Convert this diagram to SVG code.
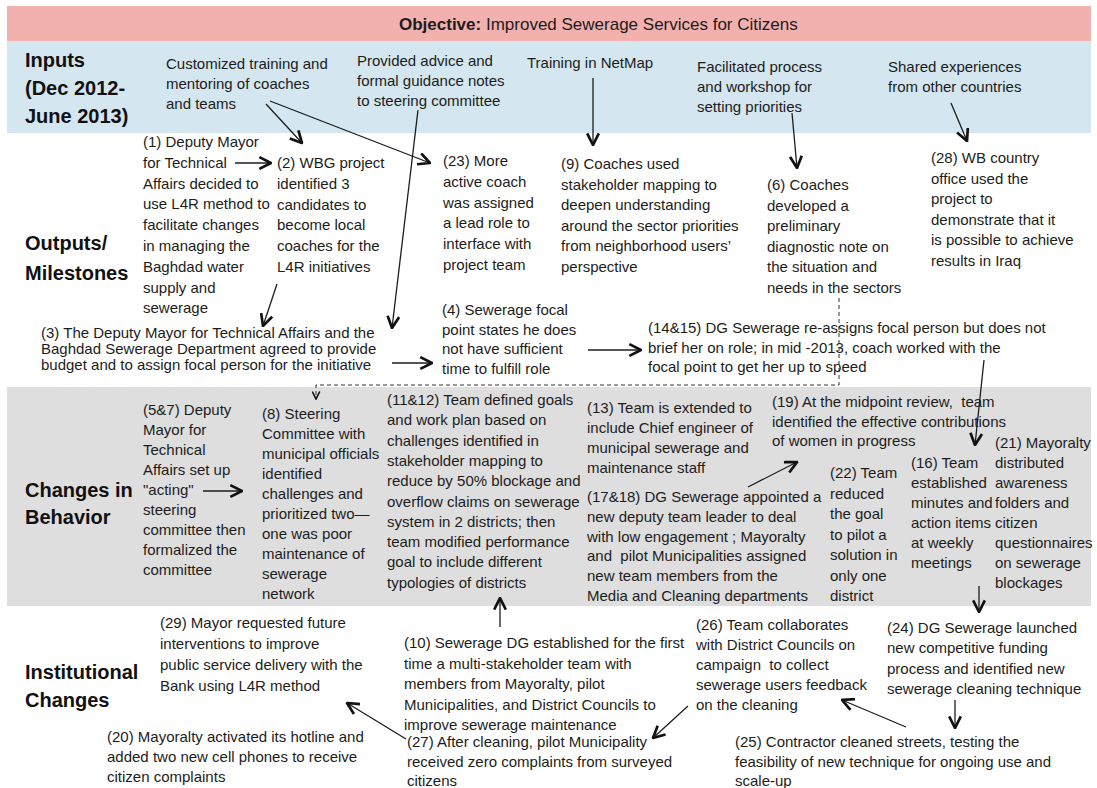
<svg xmlns="http://www.w3.org/2000/svg" width="1097" height="788" viewBox="0 0 1097 788">
  <defs>
    <style>
      .t { font-family: "Liberation Sans", Arial, sans-serif; font-size: 15px; fill: #1c1c1c; }
      .lbl { font-family: "Liberation Sans", Arial, sans-serif; font-size: 20px; font-weight: bold; fill: #111; }
      .title { font-family: "Liberation Sans", Arial, sans-serif; font-size: 17px; fill: #1c1c1c; }
      .c { fill: none; stroke: #1c1c1c; stroke-width: 1.3; }
      .dash { fill: none; stroke: #333; stroke-width: 1; stroke-dasharray: 4 3; }
    </style>
    <marker id="ah" viewBox="0 0 12 12" refX="11" refY="6" markerWidth="14" markerHeight="14" markerUnits="userSpaceOnUse" orient="auto">
      <path d="M1,1 L11,6 L1,11" fill="none" stroke="#111" stroke-width="2.3"/>
    </marker>
    <marker id="ahs" viewBox="0 0 12 12" refX="11" refY="6" markerWidth="9" markerHeight="9" markerUnits="userSpaceOnUse" orient="auto">
      <path d="M1,1 L11,6 L1,11" fill="none" stroke="#111" stroke-width="2.2"/>
    </marker>
  </defs>

  <!-- background bands -->
  <g id="bands">
    <rect x="7" y="6" width="1084" height="35" fill="#F2B0AF"/>
    <rect x="7" y="41" width="1084" height="92" fill="#D4E6EF"/>
    <rect x="7" y="387" width="1084" height="219" fill="#DEDEDE"/>
  </g>

  <g id="objective">
    <text class="title" x="399" y="30"><tspan font-weight="bold">Objective:</tspan> Improved Sewerage Services for Citizens</text>
  </g>

  <!-- row labels -->
  <g id="row-labels">
    <text class="lbl" x="25" y="67">Inputs</text>
    <text class="lbl" x="25" y="95">(Dec 2012-</text>
    <text class="lbl" x="25" y="123">June 2013)</text>
    <text class="lbl" x="25" y="250">Outputs/</text>
    <text class="lbl" x="25" y="280">Milestones</text>
    <text class="lbl" x="25" y="497">Changes in</text>
    <text class="lbl" x="25" y="524">Behavior</text>
    <text class="lbl" x="25" y="679">Institutional</text>
    <text class="lbl" x="25" y="707">Changes</text>
  </g>

  <!-- inputs -->
  <g id="in-training">
    <text class="t" x="166" y="69"><tspan x="166">Customized training and</tspan><tspan x="166" dy="20">mentoring of coaches</tspan><tspan x="166" dy="20">and teams</tspan></text>
  </g>
  <g id="in-advice">
    <text class="t" x="357" y="66"><tspan x="357">Provided advice and</tspan><tspan x="357" dy="20">formal guidance notes</tspan><tspan x="357" dy="20">to steering committee</tspan></text>
  </g>
  <g id="in-netmap">
    <text class="t" x="527" y="68">Training in NetMap</text>
  </g>
  <g id="in-workshop">
    <text class="t" x="697" y="72"><tspan x="697">Facilitated process</tspan><tspan x="697" dy="20">and workshop for</tspan><tspan x="697" dy="20">setting priorities</tspan></text>
  </g>
  <g id="in-shared">
    <text class="t" x="888" y="72"><tspan x="888">Shared experiences</tspan><tspan x="888" dy="20">from other countries</tspan></text>
  </g>

  <!-- outputs / milestones -->
  <g id="n1">
    <text class="t" x="143" y="147"><tspan x="143">(1) Deputy Mayor</tspan><tspan x="143" dy="20.8">for Technical</tspan><tspan x="143" dy="20.8">Affairs decided to</tspan><tspan x="143" dy="20.8">use L4R method to</tspan><tspan x="143" dy="20.8">facilitate changes</tspan><tspan x="143" dy="20.8">in managing the</tspan><tspan x="143" dy="20.8">Baghdad water</tspan><tspan x="143" dy="20.8">supply and</tspan><tspan x="143" dy="20.8">sewerage</tspan></text>
  </g>
  <g id="n2">
    <text class="t" x="277" y="168"><tspan x="277">(2) WBG project</tspan><tspan x="277" dy="20.8">identified 3</tspan><tspan x="277" dy="20.8">candidates to</tspan><tspan x="277" dy="20.8">become local</tspan><tspan x="277" dy="20.8">coaches for the</tspan><tspan x="277" dy="20.8">L4R initiatives</tspan></text>
  </g>
  <g id="n23">
    <text class="t" x="443" y="166"><tspan x="443">(23) More</tspan><tspan x="443" dy="20.8">active coach</tspan><tspan x="443" dy="20.8">was assigned</tspan><tspan x="443" dy="20.8">a lead role to</tspan><tspan x="443" dy="20.8">interface with</tspan><tspan x="443" dy="20.8">project team</tspan></text>
  </g>
  <g id="n9">
    <text class="t" x="561" y="169"><tspan x="561">(9) Coaches used</tspan><tspan x="561" dy="20.5">stakeholder mapping to</tspan><tspan x="561" dy="20.5">deepen understanding</tspan><tspan x="561" dy="20.5">around the sector priorities</tspan><tspan x="561" dy="20.5">from neighborhood users’</tspan><tspan x="561" dy="20.5">perspective</tspan></text>
  </g>
  <g id="n6">
    <text class="t" x="767" y="190"><tspan x="767">(6) Coaches</tspan><tspan x="767" dy="20.5">developed a</tspan><tspan x="767" dy="20.5">preliminary</tspan><tspan x="767" dy="20.5">diagnostic note on</tspan><tspan x="767" dy="20.5">the situation and</tspan><tspan x="767" dy="20.5">needs in the sectors</tspan></text>
  </g>
  <g id="n28">
    <text class="t" x="931" y="163"><tspan x="931">(28) WB country</tspan><tspan x="931" dy="20.5">office used the</tspan><tspan x="931" dy="20.5">project to</tspan><tspan x="931" dy="20.5">demonstrate that it</tspan><tspan x="931" dy="20.5">is possible to achieve</tspan><tspan x="931" dy="20.5">results in Iraq</tspan></text>
  </g>
  <g id="n3">
    <text class="t" x="41" y="338"><tspan x="41">(3) The Deputy Mayor for Technical Affairs and the</tspan><tspan x="41" dy="16">Baghdad Sewerage Department agreed to provide</tspan><tspan x="41" dy="16">budget and to assign focal person for the initiative</tspan></text>
  </g>
  <g id="n4">
    <text class="t" x="442" y="315"><tspan x="442">(4) Sewerage focal</tspan><tspan x="442" dy="19.7">point states he does</tspan><tspan x="442" dy="19.7">not have sufficient</tspan><tspan x="442" dy="19.7">time to fulfill role</tspan></text>
  </g>
  <g id="n14-15">
    <text class="t" x="648" y="333"><tspan x="648">(14&amp;15) DG Sewerage re-assigns focal person but does not</tspan><tspan x="648" dy="19.5">brief her on role; in mid -2013, coach worked with the</tspan><tspan x="648" dy="19.5">focal point to get her up to speed</tspan></text>
  </g>

  <!-- changes in behavior -->
  <g id="n5-7">
    <text class="t" x="143" y="415"><tspan x="143">(5&amp;7) Deputy</tspan><tspan x="143" dy="20">Mayor for</tspan><tspan x="143" dy="20">Technical</tspan><tspan x="143" dy="20">Affairs set up</tspan><tspan x="143" dy="20">"acting"</tspan><tspan x="143" dy="20">steering</tspan><tspan x="143" dy="20">committee then</tspan><tspan x="143" dy="20">formalized the</tspan><tspan x="143" dy="20">committee</tspan></text>
  </g>
  <g id="n8">
    <text class="t" x="262" y="419"><tspan x="262">(8) Steering</tspan><tspan x="262" dy="20">Committee with</tspan><tspan x="262" dy="20">municipal officials</tspan><tspan x="262" dy="20">identified</tspan><tspan x="262" dy="20">challenges and</tspan><tspan x="262" dy="20">prioritized two—</tspan><tspan x="262" dy="20">one was poor</tspan><tspan x="262" dy="20">maintenance of</tspan><tspan x="262" dy="20">sewerage</tspan><tspan x="262" dy="20">network</tspan></text>
  </g>
  <g id="n11-12">
    <text class="t" x="387" y="405"><tspan x="387">(11&amp;12) Team defined goals</tspan><tspan x="387" dy="20.3">and work plan based on</tspan><tspan x="387" dy="20.3">challenges identified in</tspan><tspan x="387" dy="20.3">stakeholder mapping to</tspan><tspan x="387" dy="20.3">reduce by 50% blockage and</tspan><tspan x="387" dy="20.3">overflow claims on sewerage</tspan><tspan x="387" dy="20.3">system in 2 districts; then</tspan><tspan x="387" dy="20.3">team modified performance</tspan><tspan x="387" dy="20.3">goal to include different</tspan><tspan x="387" dy="20.3">typologies of districts</tspan></text>
  </g>
  <g id="n13">
    <text class="t" x="587" y="413"><tspan x="587">(13) Team is extended to</tspan><tspan x="587" dy="20">include Chief engineer of</tspan><tspan x="587" dy="20">municipal sewerage and</tspan><tspan x="587" dy="20">maintenance staff</tspan></text>
  </g>
  <g id="n17-18">
    <text class="t" x="587" y="502"><tspan x="587">(17&amp;18) DG Sewerage appointed a</tspan><tspan x="587" dy="19.8">new deputy team leader to deal</tspan><tspan x="587" dy="19.8">with low engagement ; Mayoralty</tspan><tspan x="587" dy="19.8" xml:space="preserve">and  pilot Municipalities assigned</tspan><tspan x="587" dy="19.8">new team members from the</tspan><tspan x="587" dy="19.8">Media and Cleaning departments</tspan></text>
  </g>
  <g id="n19">
    <text class="t" x="772" y="407"><tspan x="772" xml:space="preserve">(19) At the midpoint review,  team</tspan><tspan x="772" dy="19.5">identified the effective contributions</tspan><tspan x="772" dy="19.5">of women in progress</tspan></text>
  </g>
  <g id="n22">
    <text class="t" x="830" y="478"><tspan x="830">(22) Team</tspan><tspan x="830" dy="20.5">reduced</tspan><tspan x="830" dy="20.5">the goal</tspan><tspan x="830" dy="20.5">to pilot a</tspan><tspan x="830" dy="20.5">solution in</tspan><tspan x="830" dy="20.5">only one</tspan><tspan x="830" dy="20.5">district</tspan></text>
  </g>
  <g id="n16">
    <text class="t" x="911" y="468"><tspan x="911">(16) Team</tspan><tspan x="911" dy="20">established</tspan><tspan x="911" dy="20">minutes and</tspan><tspan x="911" dy="20">action items</tspan><tspan x="911" dy="20">at weekly</tspan><tspan x="911" dy="20">meetings</tspan></text>
  </g>
  <g id="n21">
    <text class="t" x="995" y="448"><tspan x="995">(21) Mayoralty</tspan><tspan x="995" dy="20">distributed</tspan><tspan x="995" dy="20">awareness</tspan><tspan x="995" dy="20">folders and</tspan><tspan x="995" dy="20">citizen</tspan><tspan x="995" dy="20">questionnaires</tspan><tspan x="995" dy="20">on sewerage</tspan><tspan x="995" dy="20">blockages</tspan></text>
  </g>

  <!-- institutional changes -->
  <g id="n29">
    <text class="t" x="160" y="628"><tspan x="160">(29) Mayor requested future</tspan><tspan x="160" dy="21">interventions to improve</tspan><tspan x="160" dy="21">public service delivery with the</tspan><tspan x="160" dy="21">Bank using L4R method</tspan></text>
  </g>
  <g id="n10">
    <text class="t" x="404" y="648"><tspan x="404">(10) Sewerage DG established for the first</tspan><tspan x="404" dy="20.5">time a multi-stakeholder team with</tspan><tspan x="404" dy="20.5">members from Mayoralty, pilot</tspan><tspan x="404" dy="20.5">Municipalities, and District Councils to</tspan><tspan x="404" dy="20.5">improve sewerage maintenance</tspan></text>
  </g>
  <g id="n26">
    <text class="t" x="696" y="630"><tspan x="696">(26) Team collaborates</tspan><tspan x="696" dy="20">with District Councils on</tspan><tspan x="696" dy="20" xml:space="preserve">campaign  to collect</tspan><tspan x="696" dy="20">sewerage users feedback</tspan><tspan x="696" dy="20">on the cleaning</tspan></text>
  </g>
  <g id="n24">
    <text class="t" x="887" y="633"><tspan x="887">(24) DG Sewerage launched</tspan><tspan x="887" dy="20.3">new competitive funding</tspan><tspan x="887" dy="20.3">process and identified new</tspan><tspan x="887" dy="20.3">sewerage cleaning technique</tspan></text>
  </g>
  <g id="n20">
    <text class="t" x="107" y="742"><tspan x="107">(20) Mayoralty activated its hotline and</tspan><tspan x="107" dy="20">added two new cell phones to receive</tspan><tspan x="107" dy="20">citizen complaints</tspan></text>
  </g>
  <g id="n27">
    <text class="t" x="407" y="747"><tspan x="407">(27) After cleaning, pilot Municipality</tspan><tspan x="407" dy="19.5">received zero complaints from surveyed</tspan><tspan x="407" dy="19.5">citizens</tspan></text>
  </g>
  <g id="n25">
    <text class="t" x="735" y="747"><tspan x="735">(25) Contractor cleaned streets, testing the</tspan><tspan x="735" dy="19.5">feasibility of new technique for ongoing use and</tspan><tspan x="735" dy="19.5">scale-up</tspan></text>
  </g>

  <!-- connectors -->
  <g id="connectors">
    <line class="c" x1="266" y1="104" x2="302" y2="143" marker-end="url(#ah)"/>
    <line class="c" x1="270" y1="101" x2="430" y2="163" marker-end="url(#ah)"/>
    <line class="c" x1="418" y1="110" x2="392" y2="328" marker-end="url(#ah)"/>
    <line class="c" x1="593" y1="78" x2="593" y2="145" marker-end="url(#ah)"/>
    <line class="c" x1="792" y1="113" x2="797" y2="168" marker-end="url(#ah)"/>
    <line class="c" x1="951" y1="103" x2="967" y2="141" marker-end="url(#ah)"/>
    <line class="c" x1="235" y1="163" x2="271" y2="163" marker-end="url(#ah)"/>
    <line class="c" x1="277" y1="284" x2="263" y2="326" marker-end="url(#ah)"/>
    <line class="c" x1="392" y1="363" x2="432" y2="363" marker-end="url(#ah)"/>
    <line class="c" x1="588" y1="350" x2="641" y2="350" marker-end="url(#ah)"/>
    <path class="dash" d="M839,298 V385 H316 V399" marker-end="url(#ahs)"/>
    <line class="c" x1="203" y1="491" x2="242" y2="491" marker-end="url(#ah)"/>
    <line class="c" x1="984" y1="360" x2="975" y2="445" marker-end="url(#ah)"/>
    <line class="c" x1="748" y1="487" x2="797" y2="462" marker-end="url(#ah)"/>
    <line class="c" x1="979" y1="586" x2="979" y2="612" marker-end="url(#ah)"/>
    <line class="c" x1="500" y1="627" x2="500" y2="598" marker-end="url(#ah)"/>
    <line class="c" x1="688" y1="706" x2="653" y2="738" marker-end="url(#ah)"/>
    <line class="c" x1="906" y1="727" x2="842" y2="700" marker-end="url(#ah)"/>
    <line class="c" x1="955" y1="700" x2="955" y2="728" marker-end="url(#ah)"/>
    <line class="c" x1="406" y1="739" x2="347" y2="703" marker-end="url(#ah)"/>
  </g>
</svg>
